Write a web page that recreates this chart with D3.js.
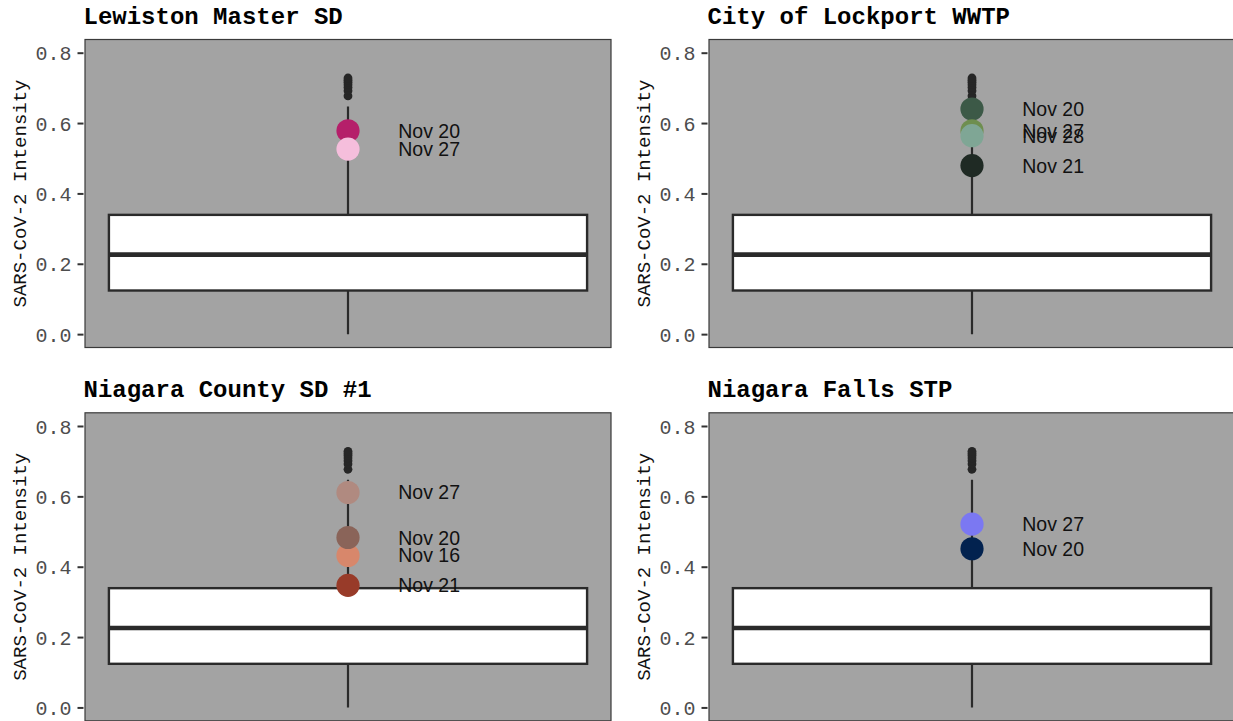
<!DOCTYPE html>
<html>
<head>
<meta charset="utf-8">
<script src="https://cdn.jsdelivr.net/npm/d3@7"></script>
<style>
  html, body { margin: 0; padding: 0; background: #ffffff; }
  svg { display: block; }
</style>
</head>
<body>
<div id="chart"></div>
<script>
// Sites shown, one facet each (row-major order)
const sites = ["Lewiston Master SD", "City of Lockport WWTP", "Niagara County SD #1", "Niagara Falls STP"];

// Distribution of intensity across all samples (shared by every facet)
const boxQuartiles = [0.124, 0.226, 0.339];   // Q1, median, Q3
const whiskerRange = [0.0, 0.647];             // lower, upper whisker ends
const outlierValues = [0.677, 0.692, 0.701, 0.709, 0.716, 0.722, 0.728];

// Highlighted recent samples per site (drawn in this order)
const highlightSite  = [0, 0, 1, 1, 1, 1, 2, 2, 2, 2, 3, 3];
const highlightDate  = ["Nov 20", "Nov 27",
                        "Nov 20", "Nov 27", "Nov 28", "Nov 21",
                        "Nov 27", "Nov 16", "Nov 20", "Nov 21",
                        "Nov 27", "Nov 20"];
const highlightValue = [0.578, 0.526,
                        0.640, 0.578, 0.564, 0.479,
                        0.611, 0.432, 0.483, 0.347,
                        0.521, 0.451];
const highlightColor = ["#b51f6a", "#f5bedc",
                        "#3c5947", "#6e8e4f", "#7fa695", "#1f2a24",
                        "#b08a80", "#d8876b", "#8a6459", "#983b29",
                        "#7b78f2", "#02224f"];

// Axis ticks
const yTicks = [0.0, 0.2, 0.4, 0.6, 0.8];
const yTickLabels = ["0.0", "0.2", "0.4", "0.6", "0.8"];
const yAxisTitle = "SARS-CoV-2 Intensity";

const W = 1233, H = 721;
const svg = d3.select("#chart").append("svg")
  .attr("width", W).attr("height", H);

// Facet geometry
const colX = [85, 709];
const rowY = [39.5, 412.8];
const panelW = 526, panelH = 308;
const yLimits = [-0.038, 0.8375];

const monoFont = "'Liberation Mono', 'DejaVu Sans Mono', monospace";
const sansFont = "'Liberation Sans', Arial, Helvetica, sans-serif";

sites.forEach((site, i) => {
  const px = colX[i % 2], py = rowY[Math.floor(i / 2)];
  const g = svg.append("g").attr("transform", `translate(${px},${py})`);

  const y = d3.scaleLinear().domain(yLimits).range([panelH, 0]);
  const x = d3.scaleLinear().domain([-0.55, 0.55]).range([0, panelW]);

  // facet title
  svg.append("text")
    .attr("x", px - 1.5).attr("y", py - 16)
    .attr("font-family", monoFont).attr("font-weight", "bold")
    .attr("font-size", 24).attr("fill", "#000")
    .text(site);

  // panel background
  g.append("rect")
    .attr("x", 0).attr("y", 0).attr("width", panelW).attr("height", panelH)
    .attr("fill", "#a3a3a3").attr("stroke", "#3a3a3a").attr("stroke-width", 1.2);

  // y axis
  const axis = d3.axisLeft(y).tickValues(yTicks)
    .tickFormat((d, k) => yTickLabels[k]).tickSize(6).tickPadding(6);
  const ag = g.append("g").attr("transform", "translate(-1.5,0)").call(axis);
  ag.select(".domain").remove();
  ag.selectAll(".tick line").attr("stroke", "#333").attr("stroke-width", 2);
  ag.selectAll(".tick text")
    .attr("font-family", monoFont).attr("font-size", 20)
    .attr("fill", "#4d4d4d").attr("dy", "0.36em");

  // y axis title
  svg.append("text")
    .attr("transform", `translate(${px - 66},${py + panelH / 2}) rotate(-90)`)
    .attr("text-anchor", "middle").attr("dy", "0.35em")
    .attr("font-family", monoFont).attr("font-size", 19).attr("fill", "#111")
    .text(yAxisTitle);

  const clip = "clip-" + i;
  g.append("clipPath").attr("id", clip).append("rect")
    .attr("width", panelW).attr("height", panelH);
  const plot = g.append("g").attr("clip-path", `url(#${clip})`);

  // whiskers
  plot.append("line")
    .attr("x1", x(0)).attr("x2", x(0))
    .attr("y1", y(boxQuartiles[2])).attr("y2", y(whiskerRange[1]))
    .attr("stroke", "#2a2a2a").attr("stroke-width", 2.2);
  plot.append("line")
    .attr("x1", x(0)).attr("x2", x(0))
    .attr("y1", y(boxQuartiles[0])).attr("y2", y(whiskerRange[0]))
    .attr("stroke", "#2a2a2a").attr("stroke-width", 2.2);

  // box
  plot.append("rect")
    .attr("x", x(-0.5)).attr("width", x(0.5) - x(-0.5))
    .attr("y", y(boxQuartiles[2])).attr("height", y(boxQuartiles[0]) - y(boxQuartiles[2]))
    .attr("fill", "#ffffff").attr("stroke", "#2a2a2a").attr("stroke-width", 2.4);
  plot.append("line")
    .attr("x1", x(-0.5)).attr("x2", x(0.5))
    .attr("y1", y(boxQuartiles[1])).attr("y2", y(boxQuartiles[1]))
    .attr("stroke", "#2a2a2a").attr("stroke-width", 4.6);

  // outliers
  plot.selectAll("circle.outlier").data(outlierValues).enter().append("circle")
    .attr("class", "outlier")
    .attr("cx", x(0)).attr("cy", d => y(d)).attr("r", 4.4)
    .attr("fill", "#262626");

  // highlighted samples
  const idx = highlightSite.map((s, k) => s === i ? k : -1).filter(k => k >= 0);
  plot.selectAll("circle.hl").data(idx).enter().append("circle")
    .attr("class", "hl")
    .attr("cx", x(0)).attr("cy", k => y(highlightValue[k])).attr("r", 11.6)
    .attr("fill", k => highlightColor[k]);
  plot.selectAll("text.hl").data(idx).enter().append("text")
    .attr("class", "hl")
    .attr("x", x(0.105)).attr("y", k => y(highlightValue[k]))
    .attr("dy", "0.36em")
    .attr("font-family", sansFont).attr("font-size", 19.5).attr("fill", "#111")
    .text(k => highlightDate[k]);
});
</script>
</body>
</html>
